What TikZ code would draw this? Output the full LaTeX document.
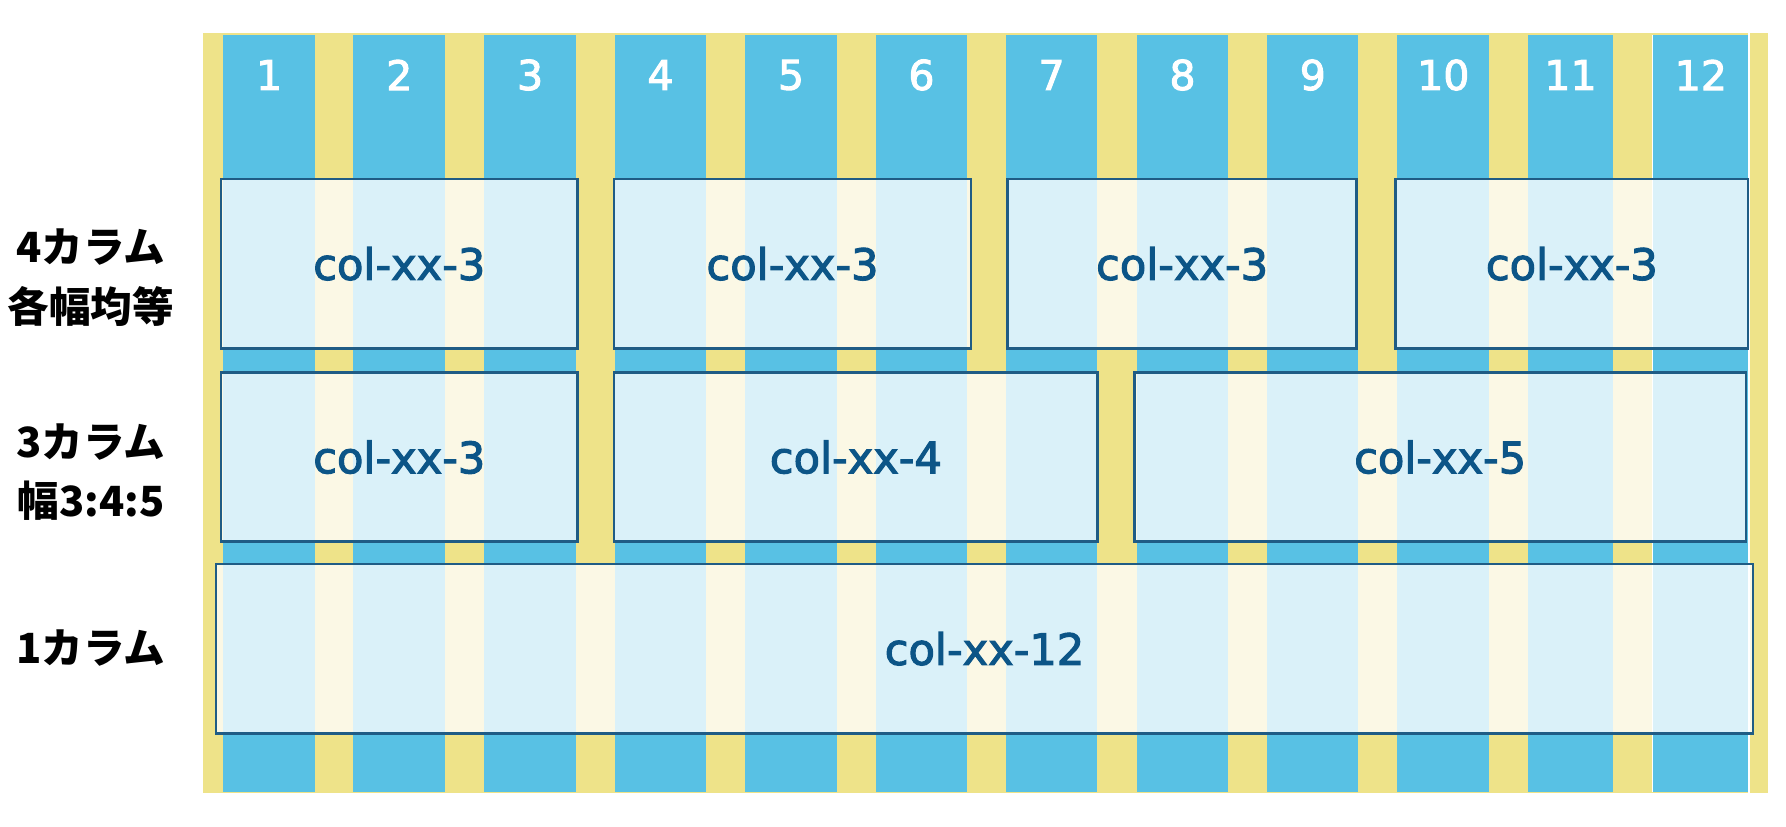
\documentclass[tikz,border=0pt]{standalone}
\usepackage{fontspec}
\newfontfamily\jpfont{Noto Sans CJK JP}
\newfontfamily\lafont{DejaVu Sans}
\newcommand\heavier[2]{\special{pdf:literal direct 2 Tr #1 w}#2\special{pdf:literal direct 0 Tr}}
\definecolor{gridblue}{HTML}{58C1E4}
\definecolor{gridyellow}{HTML}{EEE389}
\definecolor{boxborder}{HTML}{1F5C85}
\definecolor{boxtext}{HTML}{0C5587}
\tikzset{
  colbar/.style={fill=gridblue, draw=none},
  gapline/.style={fill=white, draw=none},
  spanbox/.style={fill=white, fill opacity=0.78, draw=boxborder, draw opacity=1, line width=1.4pt},
  coltext/.style={text=boxtext, text opacity=1, font=\lafont\fontsize{21.6}{26}\selectfont, inner sep=0pt},
  numtext/.style={text=white, font=\lafont\fontsize{20.5}{24}\selectfont, inner sep=0pt},
  rowlabel/.style={text=black, font=\jpfont\bfseries\fontsize{20.8}{24}\selectfont, inner sep=0pt},
}
\begin{document}
\begin{tikzpicture}[x=0.5pt,y=-0.5pt]
\useasboundingbox (0,0) rectangle (1786,826);
\fill[white] (0,0) rectangle (1786,826);
% yellow background
\fill[gridyellow] (203.3,33.3) rectangle (1768.3,793.3);
% blue columns
\foreach \s/\e/\n in {223.3/315/1, 353.3/445.3/2, 484.3/576/3, 615/706/4, 745.3/836.7/5, 875.7/967.3/6, 1006/1097.3/7, 1136.7/1228.3/8, 1267.3/1358.3/9, 1397.3/1489.3/10, 1528.3/1612.7/11, 1653.3/1748.3/12}{
  \fill[colbar] (\s,35) rectangle (\e,791.7);
  \node[numtext] (num\n) at ({(\s+\e)/2},75) {\heavier{0.5}{\n}};
}
\fill[gapline] (1651.7,35) rectangle (1653.3,791.7);
\fill[gapline] (1748.3,33.3) rectangle (1750,793.3);
% row 1
\draw[spanbox] (221,179) rectangle (577.5,348.5) node[midway, coltext] (a1) {\heavier{0.55}{col-xx-3}};
\draw[spanbox] (614,179) rectangle (971,348.5) node[midway, coltext] (a2) {\heavier{0.55}{col-xx-3}};
\draw[spanbox] (1007.5,179) rectangle (1356.7,348.5) node[midway, coltext] (a3) {\heavier{0.55}{col-xx-3}};
\draw[spanbox] (1395.7,179) rectangle (1748,348.5) node[midway, coltext] (a4) {\heavier{0.55}{col-xx-3}};
% row 2
\draw[spanbox] (221,372.5) rectangle (577.5,541.7) node[midway, coltext] (b1) {\heavier{0.55}{col-xx-3}};
\draw[spanbox] (614,372.5) rectangle (1097.7,541.7) node[midway, coltext] (b2) {\heavier{0.55}{col-xx-4}};
\draw[spanbox] (1134.3,372.5) rectangle (1746,541.7) node[midway, coltext] (b3) {\heavier{0.55}{col-xx-5}};
% row 3
\draw[spanbox] (216,564) rectangle (1753,733.5) node[midway, coltext] (c1) {\heavier{0.55}{col-xx-12}};
% labels
\node[rowlabel] (la1) at (91,247.5) {4カラム};
\node[rowlabel] (la2) at (91,306) {各幅均等};
\node[rowlabel] (lb1) at (91,442) {3カラム};
\node[rowlabel] (lb2) at (91,501) {幅3:4:5};
\node[rowlabel] (lc1) at (91,648) {1カラム};
\end{tikzpicture}
\end{document}
